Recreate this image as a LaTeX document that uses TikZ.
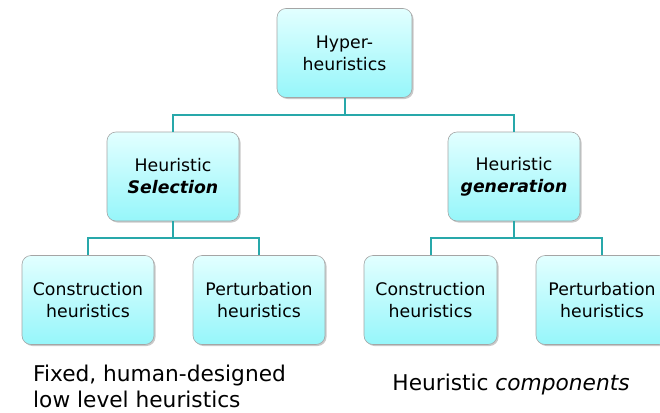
\documentclass[tikz,border=0pt]{standalone}
\usepackage{fontspec}
\setmainfont{DejaVu Sans}
\usetikzlibrary{shadows}
\definecolor{linkteal}{RGB}{40,168,170}
\definecolor{boxtop}{RGB}{226,255,255}
\definecolor{boxbot}{RGB}{150,246,250}
\definecolor{boxedge}{RGB}{165,165,165}
\tikzset{
  hbox/.style={rectangle, rounded corners=9pt, draw=boxedge, line width=0.6pt,
    top color=boxtop, bottom color=boxbot,
    drop shadow={shadow xshift=1.5pt, shadow yshift=-1.5pt, opacity=0.35, fill=black!60},
    minimum width=132pt, minimum height=89pt, align=center,
    font=\fontsize{17.3}{22}\selectfont, inner sep=2pt},
  link/.style={draw=linkteal, line width=2pt},
  note/.style={font=\fontsize{21.7}{27}\selectfont, align=left, inner sep=0pt}
}
\begin{document}
\begin{tikzpicture}[x=1pt,y=-1pt]
\useasboundingbox (0,0) rectangle (660,412);
\fill[white] (0,0) rectangle (660,412);

% connectors first, so the boxes sit on top of them
\coordinate (j0) at (344.5,115);
\coordinate (j1) at (173,238);
\coordinate (j2) at (514,238);

\node[hbox, minimum width=135pt] (top) at (344.5,53) {Hyper-\\heuristics};
\node[hbox] (sel) at (173,176.5) {Heuristic\\\textbf{\textit{Selection}}};
\node[hbox] (gen) at (514,176.5) {Heuristic\\\textbf{\textit{generation}}};
\node[hbox] (c1) at (88,300) {Construction\\heuristics};
\node[hbox] (p1) at (259,300) {Perturbation\\heuristics};
\node[hbox, minimum width=133pt] (c2) at (430.5,300) {Construction\\heuristics};
\node[hbox] (p2) at (602,300) {Perturbation\\heuristics};

\draw[link] (top.south) -- (j0);
\draw[link] (j0) -| (sel.north);
\draw[link] (j0) -| (gen.north);
\draw[link] (sel.south) -- (j1);
\draw[link] (j1) -| (c1.north);
\draw[link] (j1) -| (p1.north);
\draw[link] (gen.south) -- (j2);
\draw[link] (j2) -| (c2.north);
\draw[link] (j2) -| (p2.north);

\node[note, anchor=base west] (fixed) at (33,381) {Fixed, human-designed};
\node[note, anchor=base west] (low) at (33,407) {low level heuristics};
\node[note, anchor=base] (comp) at (511,390) {Heuristic \textit{components}};
\end{tikzpicture}
\end{document}
